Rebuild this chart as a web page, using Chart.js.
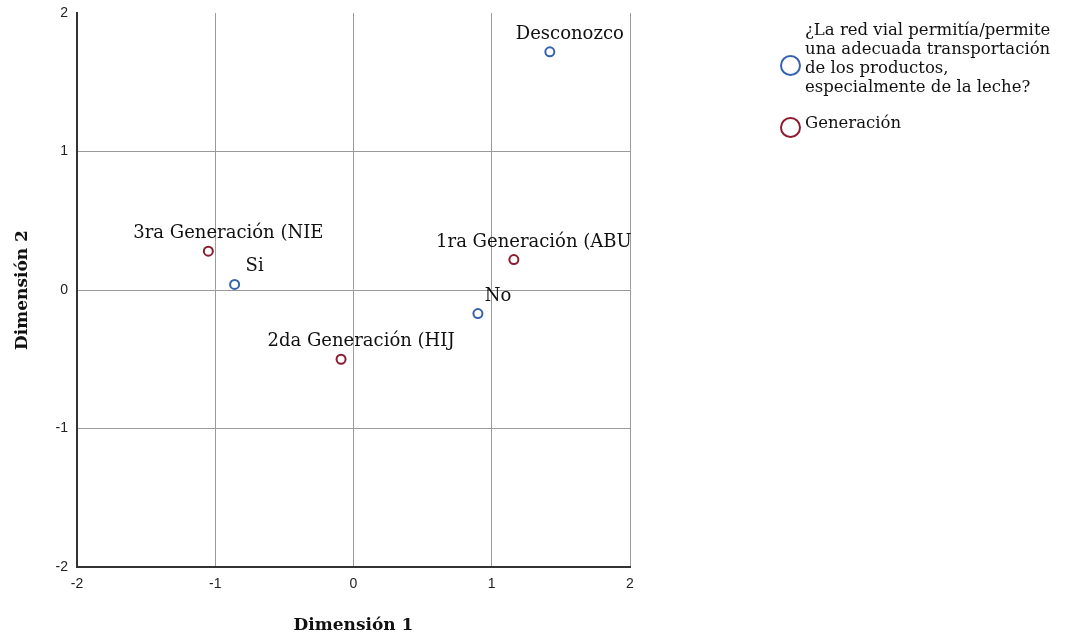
<!DOCTYPE html>
<html>
<head>
<meta charset="utf-8">
<script src="https://cdn.jsdelivr.net/npm/chart.js@4"></script>
<style>
  body { margin: 0; background: #fff; }
  #wrap { position: relative; width: 1070px; height: 638px; }
  .ley-texto { position: absolute; font-family: "DejaVu Serif", serif; font-size: 16.5px; line-height: 19px; color: #111; white-space: nowrap; }
  .ley-circulo { position: absolute; width: 17px; height: 17px; border-radius: 50%; border: 2px solid; }
</style>
</head>
<body>
<div id="wrap">
  <canvas id="grafico" width="1070" height="638"></canvas>
  <div class="ley-circulo" style="left:780px;top:55px;border-color:#3563ad"></div>
  <div class="ley-texto" style="left:805px;top:20px">¿La red vial permitía/permite<br>una adecuada transportación<br>de los productos,<br>especialmente de la leche?</div>
  <div class="ley-circulo" style="left:780px;top:117px;border-color:#8c1c30"></div>
  <div class="ley-texto" style="left:805px;top:113px">Generación</div>
</div>
<script>
// categorias y coordenadas (dimension 1, dimension 2)
const categoriasRed = ['Si', 'No', 'Desconozco']
const dim1Red = [-0.86, 0.90, 1.42]
const dim2Red = [0.04, -0.17, 1.72]

const categoriasGen = ['1ra Generación (ABU', '2da Generación (HIJ', '3ra Generación (NIE']
const dim1Gen = [1.16, -0.09, -1.05]
const dim2Gen = [0.22, -0.50, 0.28]

const valoresEje = [-2, -1, 0, 1, 2]

const azul = '#3563ad'
const rojo = '#8c1c30'

function puntos(xs, ys, nombres) {
  return xs.map((x, i) => ({ x: x, y: ys[i], etiqueta: nombres[i] }))
}

// etiquetas de texto encima de cada punto
const etiquetasPuntos = {
  id: 'etiquetasPuntos',
  afterDatasetsDraw(chart) {
    const ctx = chart.ctx
    ctx.save()
    ctx.font = '18px "DejaVu Serif", serif'
    ctx.fillStyle = '#111'
    ctx.textAlign = 'center'
    ctx.textBaseline = 'alphabetic'
    chart.data.datasets.forEach((ds, i) => {
      chart.getDatasetMeta(i).data.forEach((el, j) => {
        ctx.fillText(ds.data[j].etiqueta, el.x + 20, el.y - 13)
      })
    })
    ctx.restore()
  }
}

const fuenteTicks = { family: '"Liberation Sans", Arial, sans-serif', size: 14 }
const fuenteTitulo = { family: '"DejaVu Serif", serif', size: 17, weight: 'bold' }

const ctx = document.getElementById('grafico').getContext('2d')
new Chart(ctx, {
  type: 'scatter',
  data: {
    datasets: [
      {
        label: '¿La red vial permitía/permite una adecuada transportación de los productos, especialmente de la leche?',
        data: puntos(dim1Red, dim2Red, categoriasRed),
        borderColor: azul,
        backgroundColor: '#fff',
        borderWidth: 2,
        pointRadius: 4.5
      },
      {
        label: 'Generación',
        data: puntos(dim1Gen, dim2Gen, categoriasGen),
        borderColor: rojo,
        backgroundColor: '#fff',
        borderWidth: 2,
        pointRadius: 4.5
      }
    ]
  },
  options: {
    responsive: false,
    animation: false,
    layout: { padding: { top: 13, right: 440, left: 0, bottom: 0 } },
    plugins: {
      legend: { display: false },
      tooltip: { enabled: false }
    },
    scales: {
      x: {
        type: 'linear',
        min: valoresEje[0],
        max: valoresEje[valoresEje.length - 1],
        afterBuildTicks: (s) => { s.ticks = valoresEje.map(v => ({ value: v })) },
        afterFit: (s) => { s.height = 71; s.paddingLeft = 0; s.paddingRight = 0 },
        ticks: { font: fuenteTicks, color: '#222', padding: 9 },
        grid: {
          drawTicks: false,
          color: (c) => c.tick && c.tick.value === -2 ? 'rgba(0,0,0,0)' : '#9a9a9a',
          lineWidth: 1
        },
        border: { color: '#333', width: 2 },
        title: { display: true, text: 'Dimensión 1', font: fuenteTitulo, color: '#111', padding: { bottom: 2 } }
      },
      y: {
        type: 'linear',
        min: valoresEje[0],
        max: valoresEje[valoresEje.length - 1],
        afterBuildTicks: (s) => { s.ticks = valoresEje.map(v => ({ value: v })) },
        afterFit: (s) => { s.width = 77; s.paddingTop = 0; s.paddingBottom = 0 },
        ticks: { font: fuenteTicks, color: '#222', padding: 9 },
        grid: {
          drawTicks: false,
          color: (c) => c.tick && (c.tick.value === 2 || c.tick.value === -2) ? 'rgba(0,0,0,0)' : '#9a9a9a',
          lineWidth: 1
        },
        border: { color: '#333', width: 2 },
        title: { display: true, text: 'Dimensión 2', font: fuenteTitulo, color: '#111', padding: { top: 12 } }
      }
    }
  },
  plugins: [etiquetasPuntos]
})
</script>
</body>
</html>
